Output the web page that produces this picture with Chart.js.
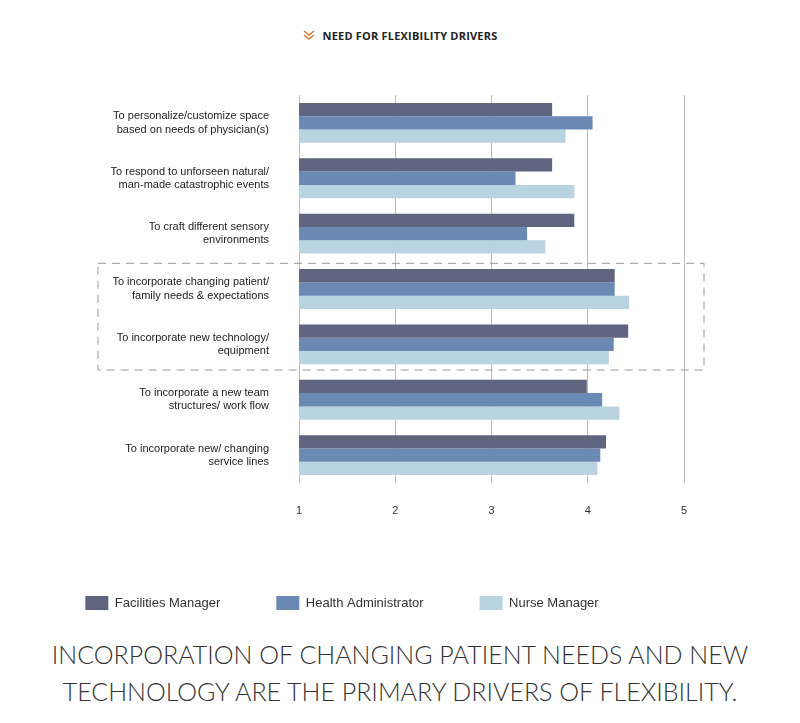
<!DOCTYPE html>
<html>
<head>
<meta charset="utf-8">
<script src="https://cdn.jsdelivr.net/npm/chart.js@4"></script>
<style>
  body { margin: 0; background: #fff; font-family: "Open Sans", sans-serif; }
  #wrap { position: relative; width: 800px; height: 723px; }
  #title { position: absolute; top: 28px; left: 0; width: 800px; text-align: center; font-size: 11px; font-weight: 700; color: #222; letter-spacing: 0.2px; }
  #title svg { vertical-align: -1px; margin-right: 8px; }
  #box { position: absolute; left: 0; top: 60px; width: 800px; height: 560px; }
  #foot { position: absolute; top: 636px; left: 0; width: 800px; text-align: center; font-family: Lato, sans-serif; font-weight: 300; font-size: 25px; line-height: 37px; color: #333; }
</style>
</head>
<body>
<div id="wrap">
  <div id="title"><svg width="12" height="11" viewBox="0 0 12 11"><polyline points="1,1 6,5 11,1" fill="none" stroke="#d9772f" stroke-width="1.5"/><polyline points="1,5 6,9 11,5" fill="none" stroke="#d9772f" stroke-width="1.5"/></svg>NEED FOR FLEXIBILITY DRIVERS</div>
  <div id="box"><canvas id="chart" width="800" height="560"></canvas></div>
  <div id="foot">INCORPORATION OF CHANGING PATIENT NEEDS AND NEW<br>TECHNOLOGY ARE THE PRIMARY DRIVERS OF FLEXIBILITY.</div>
</div>
<script>
const categories = [
  ["To personalize/customize space", "based on needs of physician(s)"],
  ["To respond to unforseen natural/", "man-made catastrophic events"],
  ["To craft different sensory", "environments"],
  ["To incorporate changing patient/", "family needs & expectations"],
  ["To incorporate new technology/", "equipment"],
  ["To incorporate a new team", "structures/ work flow"],
  ["To incorporate new/ changing", "service lines"]
];
const facilitiesManager = [3.63, 3.63, 3.86, 4.28, 4.42, 3.99, 4.19];
const healthAdministrator = [4.05, 3.25, 3.37, 4.28, 4.27, 4.15, 4.13];
const nurseManager = [3.77, 3.86, 3.56, 4.43, 4.22, 4.33, 4.10];
const xTicks = [1, 2, 3, 4, 5];
const highlighted = [3, 4];

// dashed box around the highlighted categories
const boxPlugin = {
  id: "highlightBox",
  afterDraw(chart) {
    const y = chart.scales.y;
    const half = (y.getPixelForValue(1) - y.getPixelForValue(0)) / 2;
    const top = y.getPixelForValue(highlighted[0]) - half + 2;
    const bottom = y.getPixelForValue(highlighted[highlighted.length - 1]) + half - 2;
    const ctx = chart.ctx;
    ctx.save();
    ctx.strokeStyle = "#999";
    ctx.lineWidth = 1;
    ctx.setLineDash([8, 6]);
    ctx.strokeRect(98, top, 606, bottom - top);
    ctx.restore();
  }
};

new Chart(document.getElementById("chart").getContext("2d"), {
  type: "bar",
  data: {
    labels: categories,
    datasets: [
      { label: "Facilities Manager", data: facilitiesManager, backgroundColor: "#60657f" },
      { label: "Health Administrator", data: healthAdministrator, backgroundColor: "#6a89b3" },
      { label: "Nurse Manager", data: nurseManager, backgroundColor: "#bad3e0" }
    ]
  },
  options: {
    indexAxis: "y",
    responsive: false,
    animation: false,
    categoryPercentage: 0.72,
    barPercentage: 1,
    layout: { padding: { top: 20, right: 116, left: 0, bottom: 0 } },
    scales: {
      x: {
        min: 1, max: 5,
        afterBuildTicks: (s) => { s.ticks = xTicks.map(v => ({ value: v })); },
        grid: { color: "#bbb", drawTicks: false },
        border: { display: false },
        ticks: { padding: 22, color: "#333", font: { size: 11 } }
      },
      y: {
        grid: { display: false },
        border: { display: false },
        afterFit: (s) => { s.width = 299; },
        ticks: { padding: 22, color: "#222", font: { size: 11 } }
      }
    },
    plugins: {
      legend: {
        position: "bottom",
        labels: { boxWidth: 23, boxHeight: 14, padding: 56, color: "#333", font: { size: 13 } }
      },
      tooltip: { enabled: false }
    }
  },
  plugins: [boxPlugin]
});
</script>
</body>
</html>
